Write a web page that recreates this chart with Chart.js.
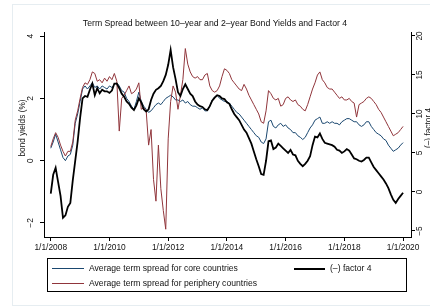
<!DOCTYPE html>
<html>
<head>
<meta charset="utf-8">
<script src="https://cdn.jsdelivr.net/npm/chart.js@4.4.1/dist/chart.umd.min.js"></script>
<style>
  body { margin: 0; background: #fff; }
  #wrap { position: relative; width: 430px; height: 307px; overflow: hidden; }
  #legend {
    position: absolute; left: 47px; top: 258px; width: 360px; height: 34px;
    box-sizing: border-box; border: 1px solid #000;
    font-family: "Liberation Sans", Arial, sans-serif; font-size: 8.6px; color: #111;
  }
  .item { position: absolute; white-space: nowrap; line-height: 10px; }
  .swatch { position: absolute; height: 0; }
</style>
</head>
<body>
<div id="wrap">
  <canvas id="chart" width="430" height="307"></canvas>
  <div id="legend">
    <div class="swatch" style="left:4px;top:9px;width:32px;border-top:1px solid #1a476f"></div>
    <div class="item" style="left:41px;top:4px">Average term spread for core countries</div>
    <div class="swatch" style="left:246px;top:9px;width:31px;border-top:2px solid #000"></div>
    <div class="item" style="left:282px;top:4px">(–) factor 4</div>
    <div class="swatch" style="left:4px;top:24px;width:32px;border-top:1px solid #90353b"></div>
    <div class="item" style="left:41px;top:19px">Average term spread for periphery countries</div>
  </div>
</div>
<script>
const fontFamily = '"Liberation Sans", Arial, sans-serif';

// x categories: monthly, 1/2008 .. 1/2020
const years = [2008, 2009, 2010, 2011, 2012, 2013, 2014, 2015, 2016, 2017, 2018, 2019];
const dates = [];
years.forEach((y) => {
  for (let m = 0; m < 12; m++) dates.push(y + m / 12);
});
dates.push(2020);

const xTicks = [2008, 2010, 2012, 2014, 2016, 2018, 2020];
const xTickLabels = ['1/1/2008', '1/1/2010', '1/1/2012', '1/1/2014', '1/1/2016', '1/1/2018', '1/1/2020'];
const leftTicks = [-2, 0, 2, 4];
const leftTickLabels = ['\u22122', '0', '2', '4'];
const rightTicks = [-5, 0, 5, 10, 15, 20];
const rightTickLabels = ['\u22125', '0', '5', '10', '15', '20'];

// average term spread, core countries (left axis)
const core = [
  0.4, 0.6, 0.85, 0.6, 0.35, 0.1, 0.0, 0.15, 0.2, 0.5, 1.2, 1.5,
  1.9, 2.3, 2.4, 2.3, 2.4, 2.5, 2.35, 2.4, 2.3, 2.4, 2.35, 2.3,
  2.4, 2.35, 2.45, 2.5, 2.4, 2.25, 2.2, 2.0, 1.9, 1.75, 1.65, 1.9,
  2.2, 1.9, 1.75, 1.65, 1.55, 1.6, 1.7, 1.8, 1.85, 1.8, 1.9, 2.0,
  2.05, 2.1, 2.05, 1.95, 1.95, 1.9, 1.95, 1.85, 1.9, 1.8, 1.75, 1.75,
  1.7, 1.65, 1.7, 1.6, 1.6, 1.75, 1.95, 2.05, 2.1, 2.0, 1.95, 1.9,
  1.9, 1.85, 1.75, 1.65, 1.55, 1.5, 1.4, 1.3, 1.2, 1.1, 1.0, 0.9,
  0.8, 0.75, 0.6, 0.55, 0.7, 1.25, 1.3, 1.1, 1.05, 1.15, 1.2, 1.1,
  1.15, 1.05, 1.0, 0.9, 0.9, 0.8, 0.75, 0.68, 0.75, 0.9, 1.05, 1.15,
  1.3, 1.35, 1.4, 1.2, 1.2, 1.25, 1.2, 1.25, 1.2, 1.2, 1.15, 1.25,
  1.3, 1.35, 1.35, 1.3, 1.25, 1.25, 1.15, 1.1, 1.15, 1.25, 1.25, 1.1,
  1.0, 0.9, 0.85, 0.8, 0.7, 0.65, 0.5, 0.4, 0.3, 0.35, 0.4, 0.5,
  0.58
];

// average term spread, periphery countries (left axis)
const periphery = [
  0.45, 0.7, 0.9, 0.75, 0.5, 0.3, 0.15, 0.3, 0.3, 0.6, 1.3, 1.6,
  2.0, 2.35, 2.5, 2.45, 2.6, 2.85, 2.8, 2.55, 2.6, 2.5, 2.65, 2.55,
  2.7, 2.6, 2.8, 2.55, 0.95, 2.0, 2.1, 2.25, 2.4, 2.15, 2.2, 2.3,
  2.5, 1.65, 1.7, 1.6, 0.5, 1.0, -0.6, -1.3, 0.5, -0.9, -1.6, -2.2,
  0.7, 1.9, 2.4, 2.2, 1.65, 2.1, 2.6, 3.6, 3.1, 2.85, 2.7, 2.65,
  2.7, 2.6, 2.6, 2.75, 2.8, 2.4, 2.25, 2.2, 2.25, 2.4, 2.7, 2.95,
  2.9, 2.8, 2.6, 2.5, 2.4, 2.3, 2.25, 2.45, 2.3, 2.1, 1.95, 1.8,
  1.65, 1.5, 1.25, 1.2, 1.6, 2.25, 2.15, 2.0, 1.95, 2.0, 1.75, 1.8,
  2.0, 2.05, 1.95, 1.9, 1.95, 1.8, 1.75, 1.65, 1.6, 1.8, 2.05, 2.3,
  2.5, 2.75, 2.85, 2.6, 2.5, 2.35, 2.3, 2.3, 2.2, 2.1, 2.0, 2.05,
  1.95, 1.95, 2.0, 1.9, 1.85, 1.4, 1.8, 1.85, 1.9, 2.0, 2.05, 2.0,
  1.9, 1.8, 1.65, 1.55, 1.4, 1.25, 1.1, 0.95, 0.8, 0.85, 0.9, 1.0,
  1.1
];

// (-) factor 4 (right axis)
const factor4 = [
  -0.2, 2.2, 3.1, 1.3, -0.5, -3.3, -3.0, -1.9, -1.4, 1.5, 4.0, 6.5,
  9.5, 12.0, 12.3, 12.2, 13.1, 13.9, 12.4, 13.3, 12.65, 13.1, 12.9, 12.9,
  12.7, 13.0, 13.9, 13.9, 13.3, 12.6, 12.2, 11.6, 11.3, 10.8, 10.5, 11.1,
  12.0, 11.5, 10.6, 10.3, 10.6, 11.8, 12.6, 13.1, 13.3, 13.6, 14.2, 15.0,
  16.3, 18.2, 16.0, 14.5, 12.8, 12.3, 13.2, 13.8, 13.2, 12.6, 12.3, 11.6,
  11.2, 11.0, 10.9, 10.6, 10.5, 11.0, 11.7, 12.1, 12.4, 12.3, 12.0, 11.9,
  11.5, 11.3, 10.6, 10.0, 9.6, 9.2, 8.6, 8.0, 7.6, 6.9, 6.2, 5.2,
  4.2, 3.3, 2.3, 2.2, 4.0, 6.5, 6.6, 5.5, 5.7, 6.2, 5.9, 5.6,
  5.3, 5.0, 5.4, 4.8, 4.7, 4.0, 3.6, 3.3, 3.6, 4.0, 4.6, 6.0,
  7.1, 7.0, 7.5, 6.8, 6.3, 6.2, 6.1, 6.0, 5.8, 5.4, 5.3, 5.0,
  5.2, 5.5, 5.3, 4.8, 4.3, 4.2, 4.0, 3.9, 4.1, 4.4, 4.4, 3.8,
  3.2, 2.8, 2.4, 2.0, 1.6, 1.1, 0.5, -0.3, -1.0, -1.4, -0.9, -0.5,
  -0.1
];

const toPoints = (vals) => vals.map((v, i) => ({ x: dates[i], y: v }));
const setTicks = (list) => (scale) => { scale.ticks = list.map((v) => ({ value: v })); };

// rotated tick labels, axis titles and the faint outer frame
const extraText = {
  id: 'extraText',
  afterDraw(chart) {
    const ctx = chart.ctx;
    const yl = chart.scales.y;
    const yr = chart.scales.y1;
    ctx.save();
    ctx.strokeStyle = '#e6edf1';
    ctx.lineWidth = 1;
    ctx.strokeRect(12.5, 4.5, 430, 301);
    ctx.fillStyle = '#111';
    ctx.textAlign = 'center';
    ctx.textBaseline = 'middle';
    ctx.font = '8.4px ' + fontFamily;
    const vText = (txt, x, y) => {
      ctx.save();
      ctx.translate(x, y);
      ctx.rotate(-Math.PI / 2);
      ctx.fillText(txt, 0, 0);
      ctx.restore();
    };
    leftTicks.forEach((v, i) => vText(leftTickLabels[i], 31, yl.getPixelForValue(v)));
    rightTicks.forEach((v, i) => vText(rightTickLabels[i], 420, yr.getPixelForValue(v)));
    ctx.font = '8.3px ' + fontFamily;
    vText('bond yields (%)', 23, 128);
    vText('(\u2013) factor 4', 429, 128);
    ctx.restore();
  }
};

const axisGrid = { drawOnChartArea: false, drawTicks: true, tickLength: 4, color: '#000', lineWidth: 1 };
const axisBorder = { display: true, color: '#000', width: 1 };

new Chart(document.getElementById('chart'), {
  type: 'line',
  data: {
    datasets: [
      { label: '(\u2013) factor 4', data: toPoints(factor4), yAxisID: 'y1', borderColor: '#000', borderWidth: 1.8, order: 0 },
      { label: 'Average term spread for periphery countries', data: toPoints(periphery), yAxisID: 'y', borderColor: '#90353b', borderWidth: 1, order: 1 },
      { label: 'Average term spread for core countries', data: toPoints(core), yAxisID: 'y', borderColor: '#1a476f', borderWidth: 1, order: 2 }
    ]
  },
  options: {
    responsive: false,
    animation: false,
    devicePixelRatio: 1,
    elements: { point: { radius: 0 }, line: { tension: 0 } },
    layout: { padding: 0 },
    plugins: {
      legend: { display: false },
      tooltip: { enabled: false },
      title: {
        display: true,
        text: 'Term Spread between 10\u2013year and 2\u2013year Bond Yields and Factor 4',
        color: '#111',
        font: { family: fontFamily, size: 8.7, weight: 'normal' },
        padding: { top: 18, bottom: 3.6 }
      }
    },
    scales: {
      x: {
        type: 'linear', position: 'bottom', min: 2007.77, max: 2020.27,
        afterBuildTicks: setTicks(xTicks),
        afterFit: (s) => { s.height = 70; },
        ticks: {
          autoSkip: false, maxRotation: 0, padding: 2, color: '#111',
          font: { family: fontFamily, size: 8.4 },
          callback: (v) => xTickLabels[xTicks.indexOf(v)]
        },
        grid: axisGrid, border: axisBorder
      },
      y: {
        position: 'left', min: -2.45, max: 4.13,
        afterBuildTicks: setTicks(leftTicks),
        afterFit: (s) => { s.width = 44; },
        ticks: { display: false },
        grid: axisGrid, border: axisBorder
      },
      y1: {
        position: 'right', min: -5.77, max: 20.5,
        afterBuildTicks: setTicks(rightTicks),
        afterFit: (s) => { s.width = 19; },
        ticks: { display: false },
        grid: axisGrid, border: axisBorder
      }
    }
  },
  plugins: [extraText]
});
</script>
</body>
</html>
